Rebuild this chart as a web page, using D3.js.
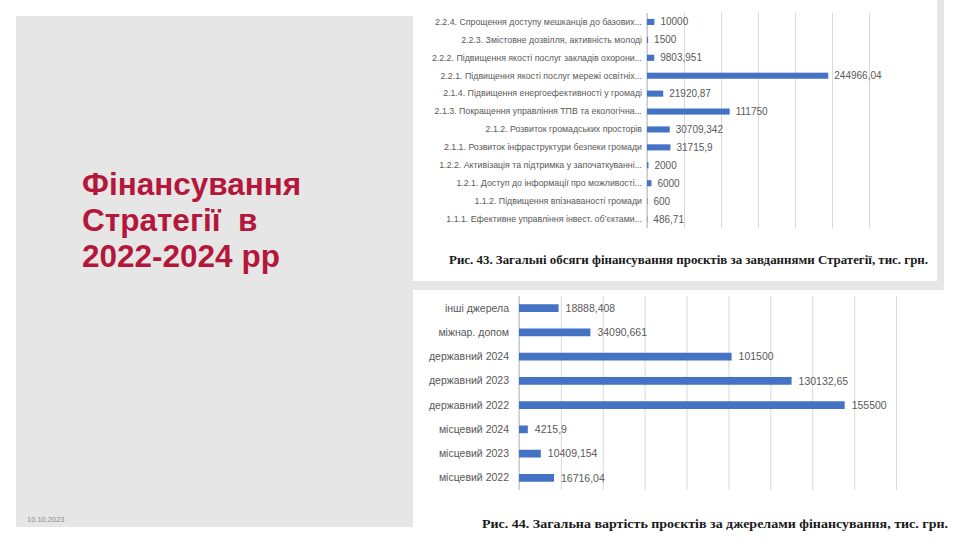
<!DOCTYPE html>
<head>
    <title>Фінансування Стратегії</title>
    <script src="https://d3js.org/d3.v7.min.js"></script>
    <style>
        body {
            margin: 0;
            background-color: #ffffff;
            overflow: hidden;
        }
        .tick-label {
            fill: #595959;
        }
    </style>
</head>
<body>
    <svg id="slide"></svg>

    <script type="text/javascript">
        // Рис. 43 – завдання Стратегії
        const taskLabels = [
            '2.2.4. Спрощення доступу мешканців до базових...',
            '2.2.3. Змістовне дозвілля, активність молоді',
            '2.2.2. Підвищення якості послуг закладів охорони...',
            '2.2.1. Підвищення якості послуг мережі освітніх...',
            '2.1.4. Підвищення енергоефективності у громаді',
            '2.1.3. Покращення управління ТПВ та екологічна...',
            '2.1.2. Розвиток громадських просторів',
            '2.1.1. Розвиток інфраструктури безпеки громади',
            '1.2.2. Активізація та підтримка у започаткуванні...',
            '1.2.1. Доступ до інформації про можливості...',
            '1.1.2. Підвищення впізнаваності громади',
            '1.1.1. Ефективне управління інвест. об’єктами...'
        ]
        const taskValues = [10000, 1500, 9803.951, 244966.04, 21920.87, 111750, 30709.342, 31715.9, 2000, 6000, 600, 486.71]
        const taskTicks = [0, 50000, 100000, 150000, 200000, 250000, 300000]

        // Рис. 44 – джерела фінансування
        const sourceLabels = ['інші джерела', 'міжнар. допом', 'державний 2024', 'державний 2023', 'державний 2022',
            'місцевий 2024', 'місцевий 2023', 'місцевий 2022']
        const sourceValues = [18888.408, 34090.661, 101500, 130132.65, 155500, 4215.9, 10409.154, 16716.04]
        const sourceTicks = [0, 20000, 40000, 60000, 80000, 100000, 120000, 140000, 160000, 180000]

        const titleLines = ['Фінансування', 'Стратегії  в', '2022-2024 рр']

        const blue = '#4472c4'
        const grey = '#e7e6e6'
        const sans = "'Liberation Sans', Arial, sans-serif"
        const serif = "'Liberation Serif', 'DejaVu Serif', serif"

        let fmt = v => String(v).replace('.', ',')

        let svg = d3.select('#slide').attr('width', 960).attr('height', 544)

        // background panels
        svg.append('rect').attr('x', 16).attr('y', 16).attr('width', 397).attr('height', 511).attr('fill', grey)
        svg.append('rect').attr('x', 413).attr('y', 0).attr('width', 531).attr('height', 290).attr('fill', grey)
        svg.append('rect').attr('x', 413).attr('y', 0).attr('width', 524).attr('height', 281).attr('fill', '#ffffff')

        // title
        svg.append('g').selectAll('text')
            .data(titleLines)
            .enter()
            .append('text')
            .text(d => d)
            .attr('x', 82)
            .attr('y', (d, i) => 195 + i * 36)
            .attr('fill', '#b5173b')
            .style('font-family', sans)
            .style('font-weight', 'bold')
            .style('font-size', '31.5px')
            .style('white-space', 'pre')

        svg.append('text').text('10.10.2023')
            .attr('x', 27).attr('y', 522)
            .attr('fill', '#8c8c8c')
            .style('font-family', sans)
            .style('font-size', '7.5px')

        let drawBars = (opt) => {
            let g = svg.append('g')

            let x = d3.scaleLinear()
                .domain([0, d3.max(opt.ticks)])
                .range([opt.x0, opt.x1])

            let y = d3.scaleBand()
                .domain(opt.labels)
                .range([opt.y0, opt.y1])
                .paddingInner(opt.pad)
                .paddingOuter(opt.pad / 2)

            // gridlines
            let grid = d3.axisBottom(x)
                .tickValues(opt.ticks)
                .tickSize(-(opt.y1 - opt.y0))
                .tickFormat('')
            g.append('g')
                .attr('transform', `translate(0,${opt.y1})`)
                .call(grid)
                .call(a => a.select('.domain').remove())
                .call(a => a.selectAll('line').attr('stroke', '#d9d9d9').attr('stroke-width', 1))

            // category axis
            g.append('g')
                .attr('transform', `translate(${opt.x0},0)`)
                .call(d3.axisLeft(y).tickSize(0).tickPadding(opt.x0 - opt.labelX))
                .call(a => a.select('.domain').attr('stroke', '#bfbfbf').attr('d', `M0,${opt.y0}V${opt.y1}`))
                .call(a => a.selectAll('text')
                    .attr('class', 'tick-label')
                    .style('font-family', sans)
                    .style('font-size', opt.labelSize))

            let data = opt.labels.map((l, i) => ({ label: l, value: opt.values[i] }))

            g.append('g').selectAll('rect')
                .data(data)
                .enter()
                .append('rect')
                .attr('x', x(0))
                .attr('y', d => y(d.label))
                .attr('width', d => x(d.value) - x(0))
                .attr('height', y.bandwidth())
                .attr('fill', blue)

            g.append('g').selectAll('text')
                .data(data)
                .enter()
                .append('text')
                .text(d => fmt(d.value))
                .attr('x', d => x(d.value) + opt.gap)
                .attr('y', d => y(d.label) + y.bandwidth() / 2)
                .attr('dy', '0.35em')
                .attr('fill', '#595959')
                .style('font-family', sans)
                .style('font-size', opt.valueSize)

            g.append('text').text(opt.caption)
                .attr('x', opt.capX)
                .attr('y', opt.capY)
                .attr('textLength', opt.capW)
                .attr('lengthAdjust', 'spacingAndGlyphs')
                .attr('fill', '#1a1a1a')
                .style('font-family', serif)
                .style('font-weight', 'bold')
                .style('font-size', '12.5px')
        }

        drawBars({
            labels: taskLabels, values: taskValues, ticks: taskTicks,
            x0: 647, x1: 869, y0: 13, y1: 228, pad: 0.66,
            labelX: 642, labelSize: '8.8px', valueSize: '10px', gap: 6,
            caption: 'Рис. 43. Загальні обсяги фінансування проєктів за завданнями Стратегії, тис. грн.',
            capX: 449, capY: 264, capW: 479
        })

        drawBars({
            labels: sourceLabels, values: sourceValues, ticks: sourceTicks,
            x0: 519, x1: 896, y0: 296, y1: 490, pad: 0.68,
            labelX: 509, labelSize: '10.5px', valueSize: '10.5px', gap: 7,
            caption: 'Рис. 44. Загальна вартість проєктів за джерелами фінансування, тис. грн.',
            capX: 482, capY: 528, capW: 466
        })
    </script>
</body>
